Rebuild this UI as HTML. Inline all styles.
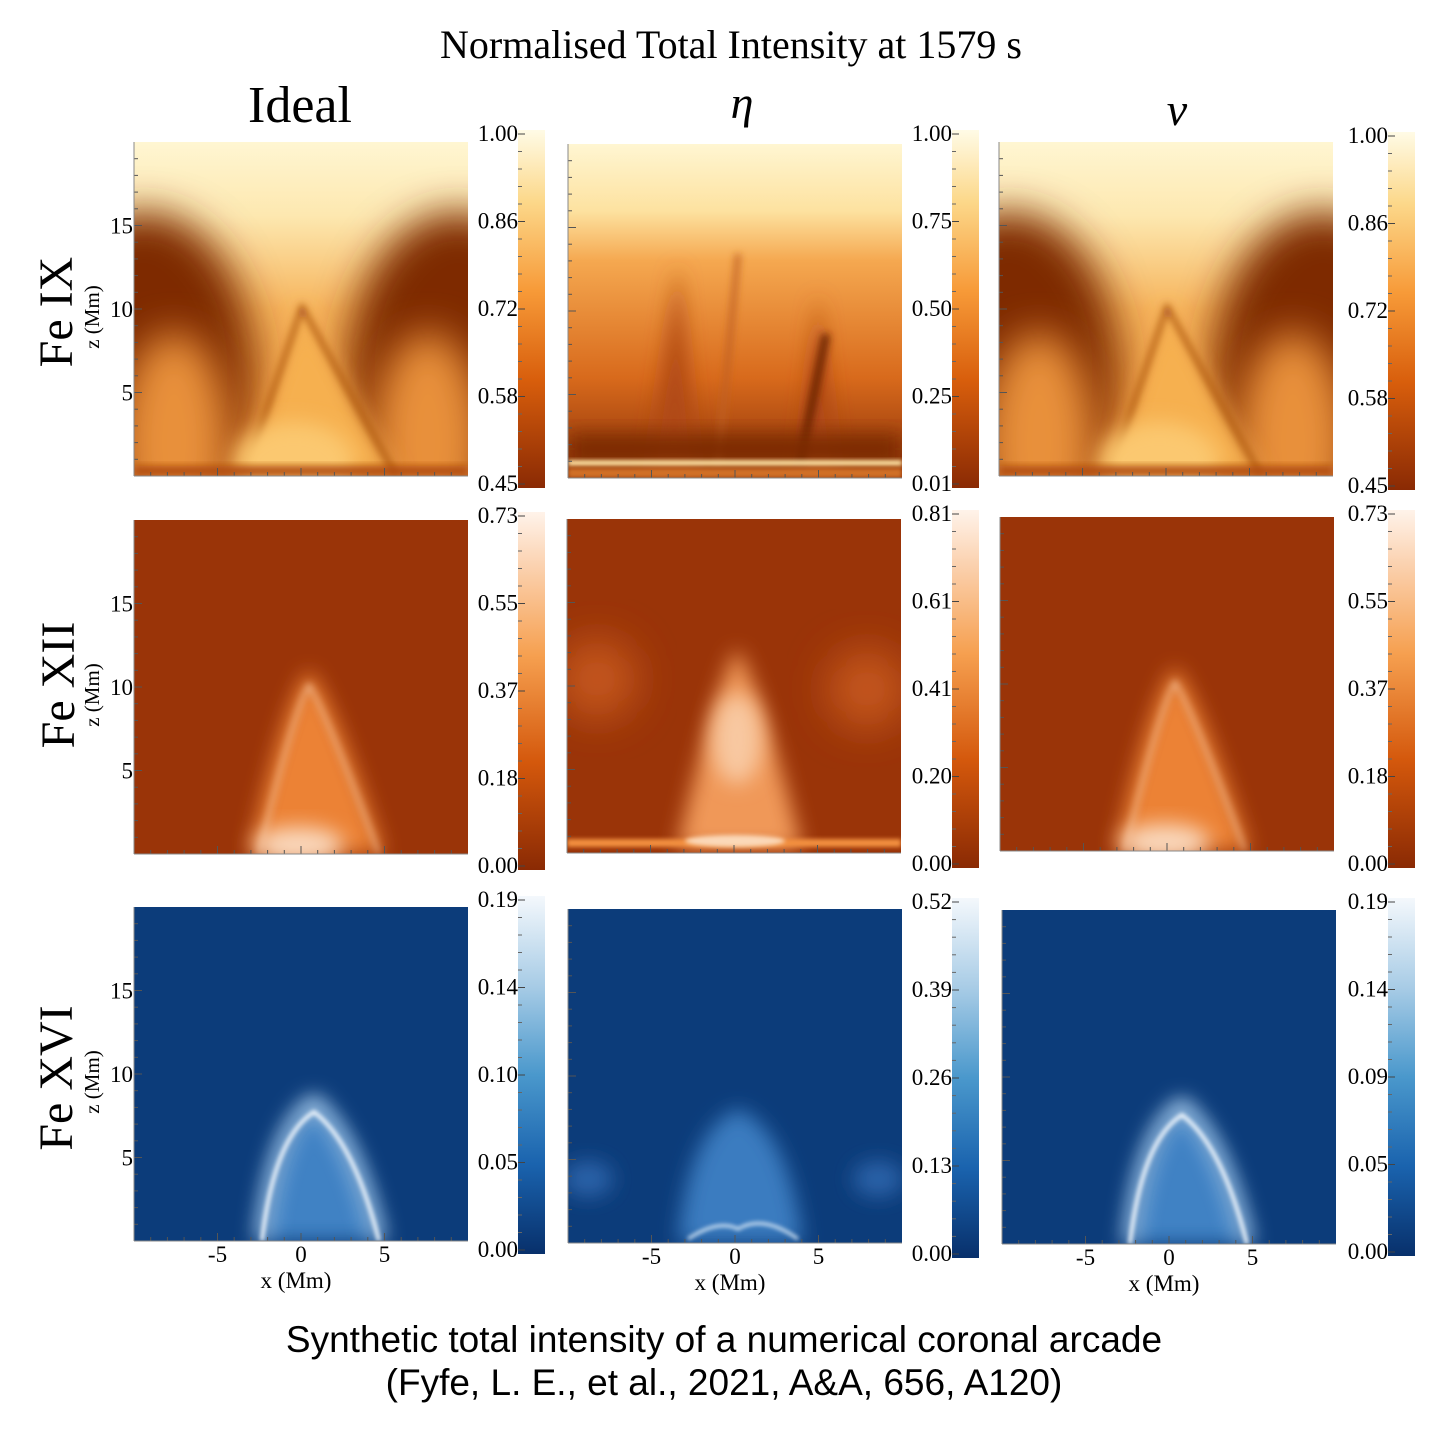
<!DOCTYPE html>
<html><head><meta charset="utf-8">
<style>
html,body{margin:0;padding:0;background:#fff;}
svg{display:block;}
.serif{font-family:"Liberation Serif",serif;}
.sans{font-family:"Liberation Sans",sans-serif;}
</style></head>
<body>
<svg id="fig" width="1449" height="1437" viewBox="0 0 1449 1437">
<defs>
  <filter id="b2" x="-50%" y="-50%" width="200%" height="200%"><feGaussianBlur stdDeviation="2"/></filter>
  <filter id="b4" x="-50%" y="-50%" width="200%" height="200%"><feGaussianBlur stdDeviation="4"/></filter>
  <filter id="b10" x="-50%" y="-50%" width="200%" height="200%"><feGaussianBlur stdDeviation="10"/></filter>
  <filter id="b20" x="-50%" y="-50%" width="200%" height="200%"><feGaussianBlur stdDeviation="20"/></filter>
  <clipPath id="clip"><rect x="0" y="0" width="334" height="334"/></clipPath>
  <linearGradient id="cbOrange" x1="0" y1="1" x2="0" y2="0">
    <stop offset="0" stop-color="#8a2a04"/><stop offset="0.3" stop-color="#d85e0c"/>
    <stop offset="0.55" stop-color="#f79a38"/><stop offset="0.8" stop-color="#fcd88a"/>
    <stop offset="1" stop-color="#fffbe6"/>
  </linearGradient>
  <linearGradient id="cbOrange2" x1="0" y1="1" x2="0" y2="0">
    <stop offset="0" stop-color="#8a2a04"/><stop offset="0.3" stop-color="#d4580c"/>
    <stop offset="0.6" stop-color="#f6a050"/><stop offset="0.85" stop-color="#fbd2b0"/>
    <stop offset="1" stop-color="#fff3ea"/>
  </linearGradient>
  <linearGradient id="cbBlue" x1="0" y1="1" x2="0" y2="0">
    <stop offset="0" stop-color="#08306b"/><stop offset="0.25" stop-color="#1a63ae"/>
    <stop offset="0.5" stop-color="#4a98cc"/><stop offset="0.75" stop-color="#a8cce6"/>
    <stop offset="1" stop-color="#f4f8fc"/>
  </linearGradient>
  <linearGradient id="ix" x1="0" y1="0" x2="0" y2="1">
    <stop offset="0" stop-color="#fff6d2"/><stop offset="0.22" stop-color="#fde8b0"/>
    <stop offset="0.5" stop-color="#f6b45c"/><stop offset="1" stop-color="#e0802a"/>
  </linearGradient>
  <linearGradient id="ixeta" x1="0" y1="0" x2="0" y2="1">
    <stop offset="0" stop-color="#fff6d2"/><stop offset="0.2" stop-color="#fde2a0"/>
    <stop offset="0.35" stop-color="#f5a850"/><stop offset="0.7" stop-color="#d86a1c"/><stop offset="1" stop-color="#8a3008"/>
  </linearGradient>
  <radialGradient id="cone" cx="0.5" cy="1" r="0.5">
    <stop offset="0" stop-color="#fde6d0"/><stop offset="0.4" stop-color="#f6a060"/>
    <stop offset="0.75" stop-color="#d8641a"/><stop offset="1" stop-color="#9a3308" stop-opacity="0"/>
  </radialGradient>
  <radialGradient id="bglow" cx="0.5" cy="1" r="0.5">
    <stop offset="0" stop-color="#6fa8dc"/><stop offset="0.6" stop-color="#3c7cc0"/>
    <stop offset="1" stop-color="#0c3c7a" stop-opacity="0"/>
  </radialGradient>

  <g id="p-ix">
    <rect width="334" height="334" fill="url(#ix)"/>
    <ellipse cx="10" cy="230" rx="110" ry="160" fill="#7e2c06" filter="url(#b20)"/>
    <ellipse cx="324" cy="230" rx="110" ry="160" fill="#7e2c06" filter="url(#b20)"/>
    <ellipse cx="40" cy="300" rx="55" ry="110" fill="#e8903a" filter="url(#b20)"/>
    <ellipse cx="294" cy="300" rx="55" ry="110" fill="#e8903a" filter="url(#b20)"/>
    <path d="M110 334 L168 165 L262 334 Z" fill="#f6b050" filter="url(#b10)"/>
    <path d="M110 334 L168 165 L262 334" fill="none" stroke="#a04410" stroke-width="4" filter="url(#b4)"/>
    <ellipse cx="160" cy="320" rx="60" ry="40" fill="#fbc870" filter="url(#b10)"/>
    <rect x="0" y="324" width="334" height="10" fill="#b04c10" filter="url(#b4)"/>
  </g>
  <g id="p-ix-eta">
    <rect width="334" height="334" fill="url(#ixeta)"/>
    <path d="M80 330 L110 120 L130 330" fill="#b04a14" filter="url(#b10)"/>
    <path d="M230 330 L250 150 L270 330" fill="#b04a14" filter="url(#b10)"/>
    <path d="M150 320 L170 110" stroke="#c06020" stroke-width="5" fill="none" filter="url(#b4)"/>
    <path d="M232 320 L258 190" stroke="#6a2005" stroke-width="8" fill="none" filter="url(#b4)"/>
    <rect x="0" y="290" width="334" height="30" fill="#7a2a06" filter="url(#b10)"/>
    <rect x="0" y="316" width="334" height="6" fill="#fde0a0" filter="url(#b2)"/>
    <rect x="0" y="324" width="334" height="10" fill="#d07028" filter="url(#b2)"/>
  </g>
  <g id="p-xii">
    <rect width="334" height="334" fill="#9a3408"/>
    <ellipse cx="170" cy="334" rx="110" ry="190" fill="url(#cone)" filter="url(#b4)"/>
    <path d="M115 334 Q150 180 175 150 Q200 180 250 334 Z" fill="#ec8234" filter="url(#b10)"/>
    <path d="M125 334 Q160 190 175 165 Q195 200 245 334" fill="none" stroke="#f8c8a0" stroke-width="3" filter="url(#b4)"/>
    <ellipse cx="165" cy="325" rx="45" ry="18" fill="#fad8bc" filter="url(#b10)"/>
  </g>
  <g id="p-xii-eta">
    <rect width="334" height="334" fill="#9a3408"/>
    <ellipse cx="30" cy="160" rx="40" ry="40" fill="#c4561a" filter="url(#b20)"/>
    <ellipse cx="300" cy="170" rx="40" ry="40" fill="#c4561a" filter="url(#b20)"/>
    <ellipse cx="168" cy="334" rx="130" ry="220" fill="url(#cone)" filter="url(#b4)"/>
    <path d="M110 330 Q150 160 170 130 Q195 170 235 330 Z" fill="#f09858" filter="url(#b10)"/>
    <ellipse cx="170" cy="220" rx="25" ry="45" fill="#f8c8a0" filter="url(#b10)"/>
    <rect x="0" y="320" width="334" height="8" fill="#f39040" filter="url(#b2)"/>
    <ellipse cx="168" cy="322" rx="50" ry="6" fill="#fbd8b8" filter="url(#b2)"/>
  </g>
  <g id="p-xvi">
    <rect width="334" height="334" fill="#0c3c7a"/>
    <path d="M128 334 Q135 230 180 195 Q225 230 245 334 Z" fill="#3f82c4" filter="url(#b10)"/>
    <path d="M128 334 Q140 220 180 195 Q220 230 245 334" fill="none" stroke="#b8d6f0" stroke-width="12" filter="url(#b10)"/>
    <path d="M128 334 Q140 230 180 205 Q220 235 245 334" fill="none" stroke="#f0f6fc" stroke-width="4" filter="url(#b2)"/>
  </g>
  <g id="p-xvi-eta">
    <rect width="334" height="334" fill="#0c3c7a"/>
    <path d="M110 334 Q120 220 170 200 Q220 220 235 334 Z" fill="#3a7cc0" filter="url(#b10)"/>
    <ellipse cx="20" cy="270" rx="25" ry="18" fill="#2a62a8" filter="url(#b10)"/>
    <ellipse cx="310" cy="270" rx="25" ry="18" fill="#2a62a8" filter="url(#b10)"/>
    <path d="M120 330 Q150 310 170 320 Q195 305 230 330" fill="none" stroke="#d8e8f6" stroke-width="3" filter="url(#b2)"/>
  </g>
</defs>

<text class="serif" x="731" y="58" font-size="40" text-anchor="middle">Normalised Total Intensity at 1579 s</text>
<text class="serif" x="300" y="122" font-size="52" text-anchor="middle">Ideal</text>
<text class="serif" x="742" y="118" font-size="46" font-style="italic" text-anchor="middle">η</text>
<text class="serif" x="1177" y="125" font-size="46" font-style="italic" text-anchor="middle">ν</text>

<text class="serif" font-size="48" transform="translate(72,312) rotate(-90)" text-anchor="middle">Fe IX</text>
<text class="serif" font-size="48" transform="translate(74,685) rotate(-90)" text-anchor="middle">Fe XII</text>
<text class="serif" font-size="48" transform="translate(72,1078) rotate(-90)" text-anchor="middle">Fe XVI</text>

<g id="panels"></g>

<text class="sans" x="724" y="1352" font-size="37" text-anchor="middle">Synthetic total intensity of a numerical coronal arcade</text>
<text class="sans" x="724" y="1395" font-size="37" text-anchor="middle">(Fyfe, L. E., et al., 2021, A&amp;A, 656, A120)</text>
</svg>

<script>
const xTicks = [-5, 0, 5];
const zTicks = [5, 10, 15];
const xDomain = [-10, 10];
const zDomain = [0, 20];
const cbIdeal1 = ["1.00","0.86","0.72","0.58","0.45"];
const cbEta1 = ["1.00","0.75","0.50","0.25","0.01"];
const cbNu1 = ["1.00","0.86","0.72","0.58","0.45"];
const cbIdeal2 = ["0.73","0.55","0.37","0.18","0.00"];
const cbEta2 = ["0.81","0.61","0.41","0.20","0.00"];
const cbNu2 = ["0.73","0.55","0.37","0.18","0.00"];
const cbIdeal3 = ["0.19","0.14","0.10","0.05","0.00"];
const cbEta3 = ["0.52","0.39","0.26","0.13","0.00"];
const cbNu3 = ["0.19","0.14","0.09","0.05","0.00"];

const NS = "http://www.w3.org/2000/svg";
const root = document.getElementById("panels");
function mk(tag, attrs, parent){const e=document.createElementNS(NS,tag);for(const k in attrs)e.setAttribute(k,attrs[k]);(parent||root).appendChild(e);return e;}

const panels = [
 {x:134,y:142,img:"p-ix",cb:{x:518,y:130,h:358,g:"cbOrange"},labels:cbIdeal1,zAxis:true,xAxis:false,name:"fe-ix-ideal"},
 {x:568,y:144,img:"p-ix-eta",cb:{x:952,y:130,h:358,g:"cbOrange"},labels:cbEta1,zAxis:false,xAxis:false,name:"fe-ix-eta"},
 {x:999,y:142,img:"p-ix",cb:{x:1388,y:132,h:358,g:"cbOrange"},labels:cbNu1,zAxis:false,xAxis:false,name:"fe-ix-nu"},
 {x:134,y:520,img:"p-xii",cb:{x:518,y:512,h:358,g:"cbOrange2"},labels:cbIdeal2,zAxis:true,xAxis:false,name:"fe-xii-ideal"},
 {x:567,y:519,img:"p-xii-eta",cb:{x:952,y:510,h:358,g:"cbOrange2"},labels:cbEta2,zAxis:false,xAxis:false,name:"fe-xii-eta"},
 {x:1000,y:517,img:"p-xii",cb:{x:1388,y:510,h:358,g:"cbOrange2"},labels:cbNu2,zAxis:false,xAxis:false,name:"fe-xii-nu"},
 {x:134,y:907,img:"p-xvi",cb:{x:518,y:896,h:358,g:"cbBlue"},labels:cbIdeal3,zAxis:true,xAxis:true,name:"fe-xvi-ideal"},
 {x:568,y:909,img:"p-xvi-eta",cb:{x:952,y:898,h:360,g:"cbBlue"},labels:cbEta3,zAxis:false,xAxis:true,name:"fe-xvi-eta"},
 {x:1002,y:910,img:"p-xvi",cb:{x:1388,y:898,h:358,g:"cbBlue"},labels:cbNu3,zAxis:false,xAxis:true,name:"fe-xvi-nu"}
];
const W=334,H=334;
function sx(v){return (v-xDomain[0])/(xDomain[1]-xDomain[0])*W;}
function sz(v){return H-(v-zDomain[0])/(zDomain[1]-zDomain[0])*H;}

panels.forEach(p=>{
  const g = mk("g",{transform:`translate(${p.x},${p.y})`});
  
  
  const inner = mk("g",{"clip-path":"url(#clip)"},g);
  const u = mk("use",{href:"#"+p.img},inner);
  
  
  for(let v=-9; v<=9; v++){
    const len = v%5===0?8:4;
    const t1=mk("line",{x1:sx(v),x2:sx(v),y1:H,y2:H-len,stroke:"#555","stroke-width":1},g);
    
    
  }
  for(let v=1; v<=19; v++){
    const len = v%5===0?8:4;
    const t2=mk("line",{x1:0,x2:len,y1:sz(v),y2:sz(v),stroke:"#555","stroke-width":1},g);
    
    
  }
  mk("line",{x1:0,x2:W,y1:H,y2:H,stroke:"#888","stroke-width":1},g);
  mk("line",{x1:0,x2:0,y1:0,y2:H,stroke:"#888","stroke-width":1},g);
  if(p.zAxis){
    zTicks.forEach(v=>{
      const t=mk("text",{x:-1,y:sz(v)+8,"font-size":23,"text-anchor":"end",class:"serif"},g);
      t.textContent=v;
      
      
    });
    const zt=mk("text",{transform:`translate(-35,${H/2+8}) rotate(-90)`,"font-size":21,"text-anchor":"middle",class:"serif"},g);
    zt.textContent="z (Mm)";
    
    
  }
  if(p.xAxis){
    xTicks.forEach(v=>{
      const t=mk("text",{x:sx(v),y:H+21,"font-size":23,"text-anchor":"middle",class:"serif"},g);
      t.textContent=v;
      
      
    });
    const xt=mk("text",{x:W/2-5,y:H+47,"font-size":23,"text-anchor":"middle",class:"serif"},g);
    xt.textContent="x (Mm)";
    
    
  }
  const cb=p.cb;
  const r=mk("rect",{x:cb.x,y:cb.y,width:27,height:cb.h,fill:`url(#${cb.g})`});
  
  
  const n=p.labels.length;
  p.labels.forEach((lab,i)=>{
    const yy = cb.y + i*(cb.h-8)/(n-1) + 4;
    for(let k=0;k<4 && i<n-1;k++){
      const my = yy + (k+1)*(cb.h-8)/(n-1)/5;
      mk("line",{x1:cb.x,x2:cb.x+4,y1:my,y2:my,stroke:"#666","stroke-width":1});
    }
    mk("line",{x1:cb.x,x2:cb.x+7,y1:yy,y2:yy,stroke:"#444","stroke-width":1});
    const t=mk("text",{x:cb.x,y:yy+7,"font-size":23,"text-anchor":"end",class:"serif"});
    t.textContent=lab;
    
    
  });
});
</script>
</body></html>
